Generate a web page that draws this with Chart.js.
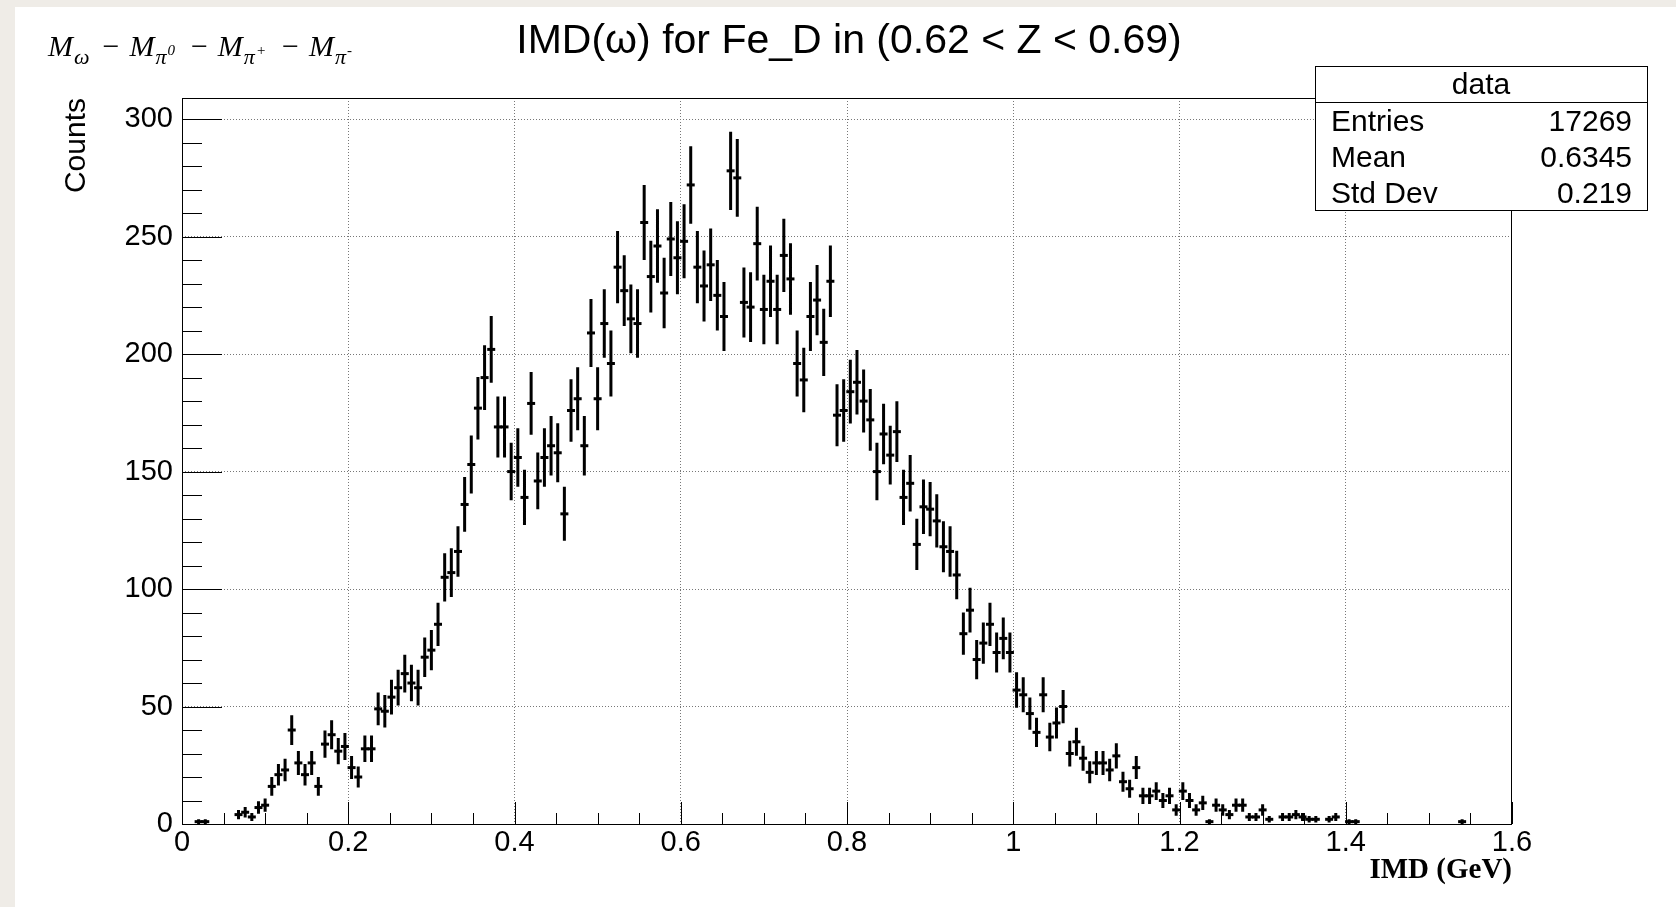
<!DOCTYPE html>
<html>
<head>
<meta charset="utf-8">
<title>IMD(ω) for Fe_D</title>
<script src="https://cdn.jsdelivr.net/npm/chart.js@4.4.0/dist/chart.umd.min.js"></script>
<style>
	html, body { margin: 0; padding: 0; background: #fff; }
	canvas { display: block; }
</style>
</head>
<body>
<canvas id="imdChart" width="1676" height="907"></canvas>
<script>
// histogram: 200 bins of 0.008 GeV starting at 0
var binLow = 0.0;
var binWidth = 0.008;
var counts = [
	0, 0, 1, 1, 0, 0, 0, 0, 4, 5,
	3, 7, 8, 16, 21, 23, 40, 26, 21, 26,
	16, 34, 38, 31, 33, 24, 20, 32, 32, 49,
	48, 54, 58, 64, 60, 58, 71, 74, 85, 105,
	107, 116, 136, 153, 177, 190, 202, 169, 169, 150,
	156, 139, 179, 146, 156, 161, 158, 132, 176, 181,
	161, 209, 181, 213, 196, 237, 227, 215, 213, 256,
	233, 246, 226, 249, 241, 248, 272, 237, 229, 238,
	225, 216, 278, 275, 222, 220, 247, 219, 231, 219,
	242, 232, 196, 189, 216, 223, 205, 231, 174, 176,
	184, 188, 180, 172, 150, 166, 157, 167, 139, 145,
	119, 135, 134, 129, 118, 116, 106, 81, 91, 70,
	77, 85, 73, 79, 73, 57, 55, 47, 39, 55,
	37, 43, 50, 30, 35, 28, 22, 26, 26, 23,
	29, 18, 15, 24, 12, 12, 14, 10, 12, 6,
	14, 10, 6, 9, 1, 8, 6, 4, 8, 8,
	3, 3, 6, 2, 0, 3, 3, 4, 3, 2,
	2, 0, 2, 3, 0, 1, 1, 0, 0, 0,
	0, 0, 0, 0, 0, 0, 0, 0, 0, 0,
	0, 0, 1, 0, 0, 0, 0, 0, 0, 0
];
var xMin = 0, xMax = 1.6, xMajor = 0.2, xMinor = 0.05;
var yMin = 0, yMax = 309, yTop = 300, yMajor = 50, yMinor = 10;
var titleText = "IMD(\u03c9) for Fe_D in (0.62 < Z < 0.69)";
var xTitle = "IMD (GeV)";
var yTitle = "Counts";
var statsName = "data";
var statsLabels = ["Entries", "Mean", "Std Dev"];
var statsValues = ["17269", "0.6345", "0.219"];

function isMultiple(v, step){
	return Math.abs(v / step - Math.round(v / step)) < 1e-6;
}

var points = [];
for (var i = 0; i < counts.length; i++) {
	points.push({x: binLow + (i + 0.5) * binWidth, y: counts[i] > 0 ? counts[i] : null});
}

var xTickValues = [], yTickValues = [];
for (var i = 0; i <= Math.round((xMax - xMin) / xMinor); i++) {
	xTickValues.push({value: Math.round((xMin + i * xMinor) * 1000) / 1000});
}
for (var i = 0; i <= Math.round((yTop - yMin) / yMinor); i++) {
	yTickValues.push({value: yMin + i * yMinor});
}

var sans = '"Liberation Sans", Arial, Helvetica, sans-serif';
var serif = '"Liberation Serif", "Times New Roman", serif';

var canvasBg = {
	id: 'canvasBg',
	beforeDraw: function(chart){
		var ctx = chart.ctx;
		ctx.save();
		ctx.fillStyle = '#efece7';
		ctx.fillRect(0, 0, chart.width, chart.height);
		ctx.fillStyle = '#ffffff';
		ctx.fillRect(15, 7, chart.width - 15, chart.height - 7);
		ctx.restore();
	}
};

var errorBars = {
	id: 'errorBars',
	afterDatasetsDraw: function(chart){
		var ctx = chart.ctx, xs = chart.scales.x, ys = chart.scales.y;
		ctx.save();
		ctx.strokeStyle = '#000';
		ctx.lineWidth = 3;
		ctx.beginPath();
		chart.data.datasets[0].data.forEach(function(p){
			if (p.y == null) return;
			var e = Math.sqrt(p.y);
			var px = xs.getPixelForValue(p.x);
			ctx.moveTo(px, ys.getPixelForValue(p.y - e));
			ctx.lineTo(px, ys.getPixelForValue(p.y + e));
		});
		ctx.stroke();
		ctx.restore();
	}
};

function drawFormula(ctx, x, y){
	var parts = [["\u03c9", ""], ["\u03c0", "0"], ["\u03c0", "+"], ["\u03c0", "-"]];
	ctx.textBaseline = 'alphabetic';
	ctx.textAlign = 'left';
	for (var i = 0; i < parts.length; i++) {
		if (i > 0) {
			ctx.font = '30px ' + serif;
			ctx.fillText('\u2212', x + 9, y);
			x += ctx.measureText('\u2212').width + 19;
		}
		ctx.font = 'italic 30px ' + serif;
		ctx.fillText('M', x, y);
		x += ctx.measureText('M').width + 1;
		ctx.font = 'italic 22px ' + serif;
		ctx.fillText(parts[i][0], x, y + 8);
		var w = ctx.measureText(parts[i][0]).width;
		if (parts[i][1]) {
			ctx.font = 'italic 15px ' + serif;
			ctx.fillText(parts[i][1], x + w + 1, y - 1);
			w += ctx.measureText(parts[i][1]).width + 4;
		}
		x += w + 4;
	}
}

var frameAndText = {
	id: 'frameAndText',
	afterDraw: function(chart){
		var ctx = chart.ctx, a = chart.chartArea;
		var xs = chart.scales.x, ys = chart.scales.y;
		ctx.save();
		ctx.strokeStyle = '#000';
		ctx.lineWidth = 1;
		ctx.strokeRect(Math.round(a.left) + 0.5, Math.round(a.top) + 0.5, Math.round(a.right - a.left) - 1, Math.round(a.bottom - a.top));

		// ticks point inward like ROOT
		ctx.beginPath();
		xs.ticks.forEach(function(t){
			var len = isMultiple(t.value, xMajor) ? 22 : 11;
			var px = Math.round(xs.getPixelForValue(t.value)) + 0.5;
			ctx.moveTo(px, a.bottom);
			ctx.lineTo(px, a.bottom - len);
		});
		ys.ticks.forEach(function(t){
			var len = isMultiple(t.value, yMajor) ? 40 : 20;
			var py = Math.round(ys.getPixelForValue(t.value)) + 0.5;
			ctx.moveTo(a.left, py);
			ctx.lineTo(a.left + len, py);
		});
		ctx.stroke();

		// title and formula
		ctx.fillStyle = '#000';
		ctx.font = '41px ' + sans;
		ctx.textAlign = 'center';
		ctx.textBaseline = 'alphabetic';
		ctx.fillText(titleText, 849, 53);
		drawFormula(ctx, 48, 56);

		// stats box
		ctx.fillStyle = '#fff';
		ctx.fillRect(1315, 66, 332, 144);
		ctx.strokeStyle = '#000';
		ctx.strokeRect(1315.5, 66.5, 332, 144);
		ctx.beginPath();
		ctx.moveTo(1315, 102.5);
		ctx.lineTo(1647, 102.5);
		ctx.stroke();
		ctx.fillStyle = '#000';
		ctx.font = '30px ' + sans;
		ctx.textAlign = 'center';
		ctx.textBaseline = 'middle';
		ctx.fillText(statsName, 1481, 86);
		for (var i = 0; i < statsLabels.length; i++) {
			ctx.textAlign = 'left';
			ctx.fillText(statsLabels[i], 1331, 123 + i * 36);
			ctx.textAlign = 'right';
			ctx.fillText(statsValues[i], 1632, 123 + i * 36);
		}
		ctx.restore();
	}
};

var dataIMD = {
	datasets: [
		{
			label: 'data',
			data: points,
			showLine: false,
			pointStyle: 'line',
			pointRadius: 4,
			pointHoverRadius: 4,
			borderColor: '#000',
			backgroundColor: '#000',
			borderWidth: 3,
			pointBorderWidth: 3
		}
	]
};

var configIMD = {
	type: 'scatter',
	data: dataIMD,
	options: {
		responsive: false,
		animation: false,
		devicePixelRatio: 1,
		layout: { padding: { left: 0, right: 164, top: 98, bottom: 0 } },
		plugins: {
			legend: { display: false },
			tooltip: { enabled: false },
			title: { display: false }
		},
		scales: {
			x: {
				type: 'linear',
				position: 'bottom',
				min: xMin,
				max: xMax,
				afterFit: function(s){ s.height = 83; },
				afterBuildTicks: function(s){ s.ticks = xTickValues.slice(); },
				grid: {
					drawTicks: false,
					lineWidth: 1,
					color: function(c){
						var v = c.tick.value;
						return (isMultiple(v, xMajor) && v > xMin && v < xMax) ? '#777' : 'rgba(0,0,0,0)';
					}
				},
				border: { display: false, dash: [1, 2] },
				ticks: {
					autoSkip: false,
					maxRotation: 0,
					padding: 2,
					color: '#000',
					font: { family: sans, size: 29 },
					callback: function(v){
						return isMultiple(v, xMajor) ? String(+v.toFixed(1)) : '';
					}
				},
				title: {
					display: true,
					text: xTitle,
					align: 'end',
					color: '#000',
					font: { family: serif, size: 29, weight: 'bold' },
					padding: { top: 0, bottom: 19 }
				}
			},
			y: {
				min: yMin,
				max: yMax,
				afterFit: function(s){ s.width = 182; },
				afterBuildTicks: function(s){ s.ticks = yTickValues.slice(); },
				grid: {
					drawTicks: false,
					lineWidth: 1,
					color: function(c){
						var v = c.tick.value;
						return (isMultiple(v, yMajor) && v > yMin) ? '#777' : 'rgba(0,0,0,0)';
					}
				},
				border: { display: false, dash: [1, 2] },
				ticks: {
					autoSkip: false,
					padding: 9,
					color: '#000',
					font: { family: sans, size: 29 },
					callback: function(v){
						return isMultiple(v, yMajor) ? String(v) : '';
					}
				},
				title: {
					display: true,
					text: yTitle,
					align: 'end',
					color: '#000',
					font: { family: sans, size: 30 },
					padding: { top: 59, bottom: 0 }
				}
			}
		}
	},
	plugins: [canvasBg, errorBars, frameAndText]
};

var chartIMD = new Chart(document.getElementById('imdChart'), configIMD);
</script>
</body>
</html>
